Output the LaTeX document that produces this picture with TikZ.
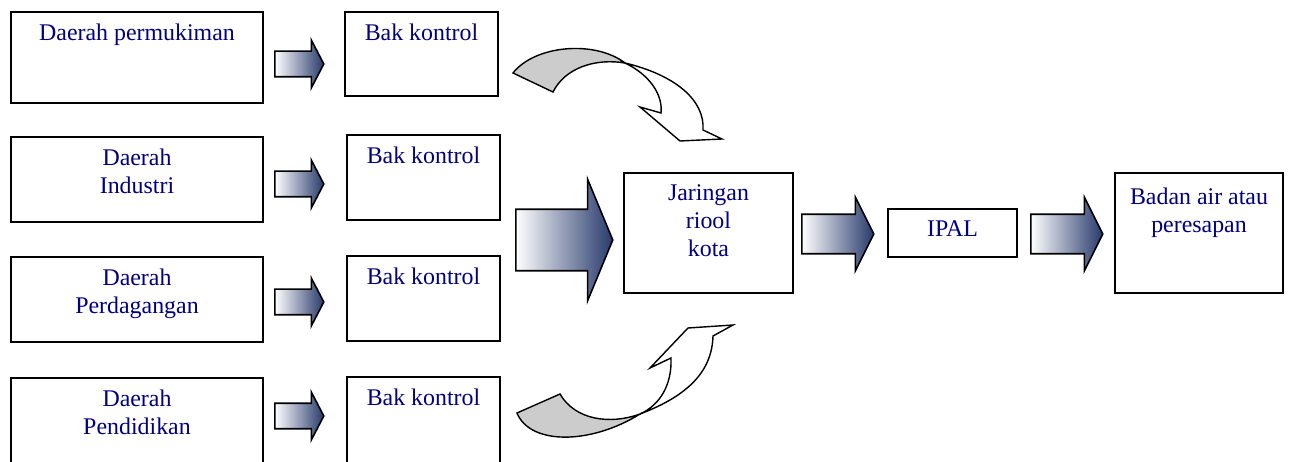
\documentclass[tikz,border=0pt]{standalone}
\usepackage{fontspec}
\setmainfont{Liberation Serif}
\usepackage{xcolor}
\usepackage{tikz}
\usetikzlibrary{shapes.arrows,positioning}

\definecolor{textnavy}{RGB}{0,0,128}
\definecolor{arrowdark}{RGB}{40,58,108}

\begin{document}
\begin{tikzpicture}[
  x=0.02cm, y=-0.02cm,
  every node/.style={inner sep=0pt},
  box/.style={rectangle, draw, line width=1pt, fill=white},
  boxtext/.style={
    anchor=north,
    align=center,
    text=textnavy,
    font=\fontsize{13.6}{15.9}\selectfont,
    yshift=-7pt
  },
  areabox/.style={box, minimum width=5.04cm, minimum height=1.7cm},
  bakbox/.style={box, minimum width=3.06cm, minimum height=1.7cm},
  blockarrow/.style={single arrow, draw, line width=0.9pt, shade,
    left color=white, right color=arrowdark, inner xsep=0pt, anchor=west},
  % inner ysep gives half the shaft width
  smallarrow/.style={blockarrow, minimum height=0.98cm, inner ysep=0.24cm,
    single arrow head extend=0.22cm, single arrow tip angle=125},
  midarrow/.style={blockarrow, minimum height=1.44cm, inner ysep=0.38cm,
    single arrow head extend=0.34cm, single arrow tip angle=127},
  bigarrow/.style={blockarrow, minimum height=1.94cm, inner ysep=0.6cm,
    single arrow head extend=0.6cm, single arrow tip angle=135},
  ribbonback/.style={draw, line width=0.8pt, fill=black!20},
  ribbonfront/.style={draw, line width=0.8pt, fill=white}
]
\clip (0,0) rectangle (1292,462);

% source areas
\node[areabox, minimum height=1.82cm,
  label={[boxtext]north:Daerah permukiman}] (permukiman) at (137,57.5) {};
\node[areabox, label={[boxtext]north:Daerah\\Industri}] (industri) at (137,179.5) {};
\node[areabox, label={[boxtext]north:Daerah\\Perdagangan}] (dagang) at (137,299.5) {};
\node[areabox, minimum height=1.8cm,
  label={[boxtext]north:Daerah\\Pendidikan}] (didik) at (137,423) {};

% control chambers
\node[bakbox, minimum height=1.68cm, label={[boxtext]north:Bak kontrol}] (bak1) at (421.5,54) {};
\node[bakbox, label={[boxtext]north:Bak kontrol}] (bak2) at (423.5,177.5) {};
\node[bakbox, label={[boxtext]north:Bak kontrol}] (bak3) at (423.5,298.5) {};
\node[bakbox, minimum height=1.8cm, label={[boxtext]north:Bak kontrol}] (bak4) at (423.5,422) {};

\node[smallarrow] (ar1) at (274,64) {};
\node[smallarrow] (ar2) at (274,184) {};
\node[smallarrow] (ar3) at (274,302) {};
\node[smallarrow] (ar4) at (274,416) {};

% city sewer, treatment, outlet
\node[box, minimum width=3.38cm, minimum height=2.4cm,
  label={[boxtext]north:Jaringan\\riool\\kota}] (riool) at (708.5,233) {};
\node[box, minimum width=2.58cm, minimum height=0.96cm,
  label={[boxtext]north:IPAL}] (ipal) at (952.5,233) {};
\node[box, minimum width=3.36cm, minimum height=2.4cm,
  label={[boxtext, yshift=-2pt]north:Badan air atau\\peresapan}] (badan) at (1199,233) {};

\node[bigarrow] (arbig) at (515,240) {};
\node[midarrow] (aripal) at (801,234) {};
\node[midarrow] (arbadan) at (1030,234) {};

% curved ribbon arrows into the sewer
\draw[ribbonback] (513,73) .. controls (535,45) and (595,40) .. (625,63)
  .. controls (595,58) and (565,68) .. (553,92) -- cycle;
\draw[ribbonfront] (625,63) .. controls (675,75) and (705,100) .. (703,130)
  -- (722,139) -- (680,141) -- (640,107) -- (661,113)
  .. controls (663,95) and (650,75) .. (625,63) -- cycle;

\draw[ribbonback] (517,413) .. controls (530,445) and (590,445) .. (640,414)
  .. controls (610,425) and (575,420) .. (560,394) -- cycle;
\draw[ribbonfront] (640,414) .. controls (690,395) and (712,370) .. (713,336)
  -- (733,325) -- (688,328) -- (650,368) -- (671,358)
  .. controls (672,385) and (660,405) .. (640,414) -- cycle;
\end{tikzpicture}
\end{document}
